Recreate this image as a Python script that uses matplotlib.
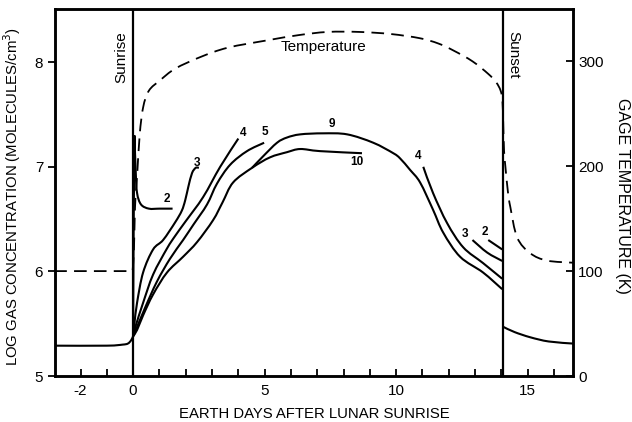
import matplotlib
matplotlib.use("Agg")
import matplotlib.pyplot as plt
from matplotlib.path import Path
from matplotlib.patches import PathPatch
import numpy as np

plt.rcParams['font.family'] = ['Liberation Sans', 'DejaVu Sans']
plt.rcParams['axes.unicode_minus'] = False

# gage temperature (K), dashed
temp_days = [-3.0, -0.02, 0.03, 0.06, 0.09, 0.15, 0.25, 0.38, 0.6, 1.03, 1.6, 2.55, 3.6, 5.1, 6.3, 7.4, 8.6, 9.8, 10.9, 11.6, 12.2, 12.9, 13.5, 13.8, 13.97, 14.04, 14.07, 14.1, 14.15, 14.25, 14.34, 14.6, 15.1, 15.74, 16.73]
temp_k = [100, 100, 120, 150, 170, 190, 230, 256, 272, 282, 293, 304, 313, 320, 325, 328, 328, 326, 322, 317, 310, 300, 288, 280, 272, 262, 240, 215, 200, 175, 161, 132, 117, 110, 108]

# log gas concentration curves
night_days = [-3.0, -1.0, -0.4, -0.2, -0.08, 0.0]
night_log = [5.29, 5.29, 5.30, 5.31, 5.34, 5.38]

c2_days = [0.0, 0.02, 0.05, 0.1, 0.15, 0.3, 0.6, 1.0, 1.5]
c2_log = [5.40, 6.40, 7.30, 6.95, 6.75, 6.64, 6.60, 6.60, 6.60]

c3_days = [0.0, 0.05, 0.15, 0.38, 0.76, 1.14, 1.6, 1.85, 1.98, 2.1, 2.24, 2.38, 2.5]
c3_log = [5.38, 5.50, 5.70, 5.99, 6.21, 6.30, 6.47, 6.58, 6.68, 6.81, 6.94, 6.99, 6.99]

c4_days = [0.0, 0.1, 0.38, 0.76, 1.29, 1.6, 2.0, 2.66, 3.31, 4.0]
c4_log = [5.38, 5.48, 5.70, 5.97, 6.22, 6.34, 6.48, 6.71, 7.00, 7.27]

c5_days = [0.0, 0.12, 0.45, 0.9, 1.4, 1.9, 2.3, 2.81, 3.19, 3.69, 4.33, 4.98]
c5_log = [5.38, 5.45, 5.65, 5.90, 6.12, 6.30, 6.45, 6.64, 6.84, 7.02, 7.15, 7.23]

c10_days = [0.0, 0.15, 0.38, 0.76, 1.29, 1.9, 2.43, 3.04, 3.4, 3.8, 4.52, 5.2, 5.85, 6.35, 7.1, 8.7]
c10_log = [5.38, 5.44, 5.58, 5.78, 5.99, 6.14, 6.28, 6.49, 6.66, 6.85, 6.99, 7.09, 7.14, 7.17, 7.15, 7.13]

c9_days = [4.52, 4.94, 5.47, 5.85, 6.35, 7.22, 8.14, 9.13, 9.89, 10.15, 10.53, 10.91, 11.4, 11.79, 12.43, 13.3, 14.03]
c9_log = [6.99, 7.10, 7.23, 7.28, 7.31, 7.32, 7.31, 7.23, 7.13, 7.08, 6.97, 6.85, 6.59, 6.37, 6.14, 5.99, 5.83]

c4d_days = [11.03, 11.4, 11.94, 12.55, 13.3, 14.03]
c4d_log = [7.00, 6.75, 6.46, 6.23, 6.08, 5.93]

c3d_days = [12.9, 13.46, 14.03]
c3d_log = [6.30, 6.18, 6.10]

c2d_days = [13.5, 14.03]
c2d_log = [6.30, 6.21]

after_days = [14.07, 14.5, 15.1, 15.8, 16.73]
after_log = [5.47, 5.42, 5.37, 5.33, 5.31]

curve_labels = ['2', '3', '4', '5', '9', '10', '4', '3', '2']
label_days = [1.3, 2.43, 4.2, 5.0, 7.57, 8.5, 10.84, 12.62, 13.38]
label_log = [6.69, 7.04, 7.32, 7.33, 7.41, 7.05, 7.10, 6.36, 6.38]

sunrise = 0.0
sunset = 14.05


def smooth_line(a, xs, ys, corners=(), **kw):
    # smooth curve through the points (Catmull-Rom as cubic Beziers);
    # at "corners" the curve is not rounded
    p = np.column_stack([xs, ys]).astype(float)
    verts = [p[0]]
    codes = [Path.MOVETO]
    n = len(p)
    for i in range(n - 1):
        p0 = p[i] if (i == 0 or i in corners) else p[i - 1]
        p1 = p[i]
        p2 = p[i + 1]
        p3 = p[i + 1] if (i + 1 == n - 1 or i + 1 in corners) else p[i + 2]
        verts += [p1 + (p2 - p0) / 6, p2 - (p3 - p1) / 6, p2]
        codes += [Path.CURVE4] * 3
    a.add_patch(PathPatch(Path(verts, codes), fill=False, **kw))


fig = plt.figure(figsize=(6.32, 4.22), dpi=100)
ax = fig.add_axes([0.087, 0.109, 0.82, 0.87])
ax2 = ax.twinx()

lw = 1.5
for d, v, cr in [(night_days, night_log, ()), (c2_days, c2_log, (2,)),
                 (c3_days, c3_log, ()), (c4_days, c4_log, ()),
                 (c5_days, c5_log, ()), (c10_days, c10_log, ()),
                 (c9_days, c9_log, ()), (c4d_days, c4d_log, ()),
                 (c3d_days, c3d_log, ()), (c2d_days, c2d_log, ()),
                 (after_days, after_log, ())]:
    smooth_line(ax, d, v, corners=cr, edgecolor='black', lw=lw, capstyle='butt')

ax.axvline(sunrise, color='black', lw=1.6)
ax.axvline(sunset, color='black', lw=1.6)

smooth_line(ax2, temp_days, temp_k, corners=(1,), edgecolor='black', lw=1.3,
            linestyle=(0, (7, 4)))

for t, x, y in zip(curve_labels, label_days, label_log):
    ax.text(x, y, t, fontsize=8.5, fontweight='bold', ha='center', va='center')

ax.text(-0.45, 8.05, 'Sunrise', rotation=90, ha='center', va='center', fontsize=11)
ax.text(14.45, 8.07, 'Sunset', rotation=270, ha='center', va='center', fontsize=11)
ax.text(7.22, 8.15, 'Temperature', ha='center', va='center', fontsize=11)

ax.set_xlim(-2.97, 16.73)
ax.set_ylim(5, 8.51)
ax2.set_ylim(0, 350)

ax.set_xticks([-2, 0, 5, 10, 15])
ax.set_xticks(range(-2, 17), minor=True)
ax.set_yticks([5, 6, 7, 8])
ax2.set_yticks([0, 100, 200, 300])

ax.tick_params(axis='x', which='both', direction='in', length=5, width=1.3, labelsize=11, pad=6)
ax.tick_params(axis='y', direction='out', length=5, width=1.3, labelsize=11)
ax2.tick_params(axis='y', direction='in', length=5, width=1.3, labelsize=11)

for a in (ax, ax2):
    for s in a.spines.values():
        s.set_linewidth(1.8)

ax.set_xlabel('EARTH DAYS AFTER LUNAR SUNRISE', fontsize=10.7, labelpad=6)
ax.set_ylabel('LOG GAS CONCENTRATION (MOLECULES/cm$^3$)', fontsize=10.7, va='center')
ax.yaxis.set_label_coords(-0.083, 0.49)
ax2.set_ylabel('GAGE TEMPERATURE (K)', fontsize=11.5, rotation=270, va='center')
ax2.yaxis.set_label_coords(1.095, 0.49)

fig.savefig('out.png', dpi=100)
